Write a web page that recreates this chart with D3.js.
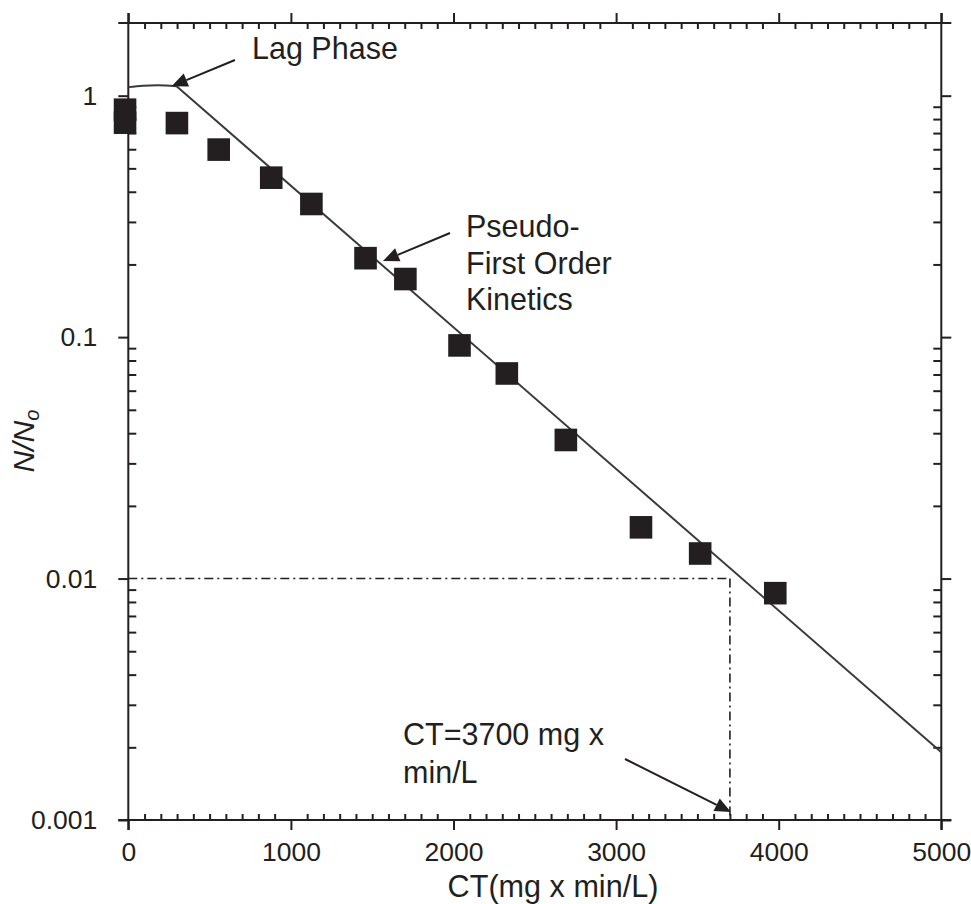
<!DOCTYPE html>
<html>
<head>
<meta charset="utf-8">
<script src="https://cdn.jsdelivr.net/npm/d3@7"></script>
<style>
  html, body { margin: 0; padding: 0; background: #fff; }
  svg { display: block; }
  text { font-family: "Liberation Sans", Arial, Helvetica, sans-serif; fill: #231f20; }
</style>
</head>
<body>
<svg id="chart" width="971" height="904"></svg>
<script>
// Inactivation data: contact time CT (mg x min/L) vs surviving fraction N/No
const ctValues  = [-20, -20, 299, 556, 879, 1126, 1459, 1704, 2037, 2328, 2691, 3153, 3517, 3979];
const survival  = [0.875, 0.773, 0.77, 0.598, 0.4575, 0.356, 0.2123, 0.174, 0.0924, 0.0707, 0.0375, 0.0163, 0.0127, 0.0087];

// Lag phase shoulder, then pseudo-first-order decline
const lagCT   = [0, 90, 180, 297];
const lagN    = [1.085, 1.1, 1.104, 1.095];
const fitCT   = [297, 5000];
const fitN    = [1.095, 0.00191];

// Target reading: 2-log reduction
const targetCT = 3700;
const targetN  = 0.01;

// Axis ticks
const xMajorTicks = [0, 1000, 2000, 3000, 4000, 5000];
const xTickLabels = ["0", "1000", "2000", "3000", "4000", "5000"];
const yMajorTicks = [0.001, 0.01, 0.1, 1];
const yTickLabels = ["0.001", "0.01", "0.1", "1"];

// Annotation texts
const lagLabel    = ["Lag Phase"];
const pseudoLabel = ["Pseudo-", "First Order", "Kinetics"];
const ctLabel     = ["CT=3700 mg x", "min/L"];

const svg = d3.select("#chart");
const ink = "#231f20";

const plotL = 128.3, plotR = 941.3, plotT = 23, plotB = 820;
const x = d3.scaleLinear().domain([0, 5000]).range([plotL, plotR]);
const y = d3.scaleLog().domain([0.001, 2]).range([plotB, plotT]);

// minor ticks
const xMinor = d3.range(0, 5001, 100).filter(v => v % 1000 !== 0);
const yMinor = [];
yMajorTicks.slice(0, 3).forEach(d => { for (let k = 2; k <= 9; k++) yMinor.push(+(d * k).toPrecision(3)); });

const frame = svg.append("g").attr("stroke", ink).attr("stroke-width", 2).attr("fill", "none");
// frame lines, each running slightly past the corners
const ext = 10;
frame.append("line").attr("x1", plotL - ext).attr("x2", plotR + ext).attr("y1", plotB).attr("y2", plotB);
frame.append("line").attr("x1", plotL - ext).attr("x2", plotR + ext).attr("y1", plotT).attr("y2", plotT);
frame.append("line").attr("x1", plotL).attr("x2", plotL).attr("y1", plotT - ext).attr("y2", plotB + ext);
frame.append("line").attr("x1", plotR).attr("x2", plotR).attr("y1", plotT - ext).attr("y2", plotB + ext);

function styleAxis(g) {
  g.select(".domain").remove();
  g.selectAll(".tick line").attr("stroke", ink).attr("stroke-width", 2);
}

// Bottom axis: major outward with labels, minor inward
svg.append("g").attr("transform", `translate(0,${plotB})`)
  .call(d3.axisBottom(x).tickValues(xMajorTicks).tickSize(10).tickPadding(12)
        .tickFormat((d, i) => xTickLabels[i]))
  .call(styleAxis)
  .call(g => g.selectAll("text").attr("font-size", 26.5).attr("fill", ink)
        .attr("font-family", "Liberation Sans, Arial, sans-serif"));
svg.append("g").attr("transform", `translate(0,${plotB})`)
  .call(d3.axisBottom(x).tickValues(xMinor).tickSize(-6).tickFormat(""))
  .call(styleAxis);

// Top axis: mirrored ticks
svg.append("g").attr("transform", `translate(0,${plotT})`)
  .call(d3.axisTop(x).tickValues(xMajorTicks).tickSize(10).tickFormat(""))
  .call(styleAxis);
svg.append("g").attr("transform", `translate(0,${plotT})`)
  .call(d3.axisTop(x).tickValues(xMinor).tickSize(-6).tickFormat(""))
  .call(styleAxis);

// Left axis
svg.append("g").attr("transform", `translate(${plotL},0)`)
  .call(d3.axisLeft(y).tickValues(yMajorTicks).tickSize(10).tickPadding(21)
        .tickFormat((d, i) => yTickLabels[i]))
  .call(styleAxis)
  .call(g => g.selectAll("text").attr("font-size", 26.5).attr("fill", ink)
        .attr("font-family", "Liberation Sans, Arial, sans-serif"));
svg.append("g").attr("transform", `translate(${plotL},0)`)
  .call(d3.axisLeft(y).tickValues(yMinor).tickSize(-8).tickFormat(""))
  .call(styleAxis);

// Right axis
svg.append("g").attr("transform", `translate(${plotR},0)`)
  .call(d3.axisRight(y).tickValues(yMajorTicks).tickSize(10).tickFormat(""))
  .call(styleAxis);
svg.append("g").attr("transform", `translate(${plotR},0)`)
  .call(d3.axisRight(y).tickValues(yMinor).tickSize(-8).tickFormat(""))
  .call(styleAxis);

// Axis titles
svg.append("text")
  .attr("x", 553).attr("y", 897)
  .attr("text-anchor", "middle").attr("font-size", 30.6)
  .text("CT(mg x min/L)");

const yTitle = svg.append("text")
  .attr("transform", "translate(34,441) rotate(-90)")
  .attr("text-anchor", "middle").attr("font-size", 30).attr("font-style", "italic");
yTitle.append("tspan").text("N/N");
yTitle.append("tspan").attr("font-size", 20).attr("dy", 5).text("o");

// Dash-dot guide lines at the 2-log reduction
const guide = svg.append("g").attr("stroke", ink).attr("stroke-width", 1.6)
  .attr("stroke-dasharray", "9,4,2,4").attr("fill", "none");
guide.append("line").attr("x1", plotL).attr("x2", x(targetCT)).attr("y1", y(targetN)).attr("y2", y(targetN));
guide.append("line").attr("x1", x(targetCT)).attr("x2", x(targetCT)).attr("y1", y(targetN)).attr("y2", plotB);

// Fitted kinetics: lag shoulder plus straight log-linear decline
svg.append("path")
  .datum(lagCT.map((c, i) => [c, lagN[i]]))
  .attr("d", d3.line().x(d => x(d[0])).y(d => y(d[1])).curve(d3.curveMonotoneX))
  .attr("fill", "none").attr("stroke", "#3a3a3a").attr("stroke-width", 2);
svg.append("path")
  .datum(fitCT.map((c, i) => [c, fitN[i]]))
  .attr("d", d3.line().x(d => x(d[0])).y(d => y(d[1])))
  .attr("fill", "none").attr("stroke", "#3a3a3a").attr("stroke-width", 2);

// Observed data as filled squares
const sq = 22.6;
svg.append("g").selectAll("rect")
  .data(ctValues.map((c, i) => [c, survival[i]]))
  .join("rect")
  .attr("x", d => x(d[0]) - sq / 2)
  .attr("y", d => y(d[1]) - sq / 2)
  .attr("width", sq).attr("height", sq)
  .attr("fill", ink);

// Arrows with filled triangular heads
function arrow(x1, y1, x2, y2) {
  const ang = Math.atan2(y2 - y1, x2 - x1);
  const len = 16, hw = 7;
  const bx = x2 - len * Math.cos(ang), by = y2 - len * Math.sin(ang);
  svg.append("line").attr("x1", x1).attr("y1", y1).attr("x2", bx).attr("y2", by)
    .attr("stroke", ink).attr("stroke-width", 2);
  const px = -Math.sin(ang) * hw, py = Math.cos(ang) * hw;
  svg.append("path")
    .attr("d", `M${x2},${y2}L${bx + px},${by + py}L${bx - px},${by - py}Z`)
    .attr("fill", ink);
}
arrow(235, 60, x(lagCT[lagCT.length - 1]) - 5, y(lagN[lagN.length - 1]));
arrow(450, 233, 383, 261);
arrow(625, 759, x(targetCT) + 1, 812);

// Annotation text blocks
function textBlock(lines, x0, y0, lh) {
  const t = svg.append("text").attr("font-size", 30.5);
  lines.forEach((s, i) => t.append("tspan").attr("x", x0).attr("y", y0 + i * lh).text(s));
}
textBlock(lagLabel, 252, 59, 0);
textBlock(pseudoLabel, 466, 237, 36.7);
textBlock(ctLabel, 403, 745, 38.3);
</script>
</body>
</html>
